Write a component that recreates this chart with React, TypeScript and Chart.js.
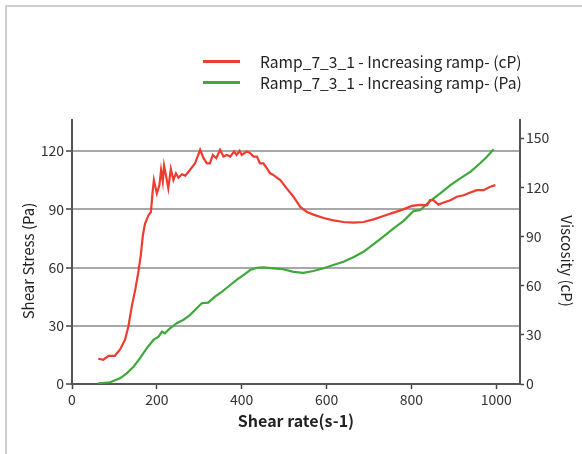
import React, { useEffect, useRef } from "react";
import { Chart, registerables } from "chart.js";

Chart.register(...registerables);

const seriesLabels = [
  "Ramp_7_3_1 - Increasing ramp- (cP)",
  "Ramp_7_3_1 - Increasing ramp- (Pa)",
];
const seriesColors = ["#ef3b30", "#3ea83a"];

const xTitle = "Shear rate(s-1)";
const yLeftTitle = "Shear Stress (Pa)";
const yRightTitle = "Viscosity (cP)";

// Viscosity (cP) – right axis
const viscRate = [62, 74, 86, 101, 113, 125, 133, 141, 149, 156, 162, 167, 172, 180, 186, 190, 193, 200, 206, 210, 214, 217, 222, 227, 233, 239, 245, 251, 259, 267, 278, 290, 296, 302, 310, 318, 325, 332, 340, 349, 357, 365, 373, 382, 388, 395, 400, 412, 420, 428, 436, 443, 451, 459, 467, 475, 491, 506, 522, 538, 554, 569, 593, 616, 640, 663, 687, 711, 734, 758, 781, 801, 821, 837, 844, 852, 864, 876, 892, 907, 923, 939, 954, 970, 986, 998];
const viscValue = [15.4, 14.8, 17.2, 17.2, 20.9, 27.0, 35.2, 47.5, 57.4, 67.6, 78.3, 90.6, 97.7, 102.8, 104.9, 117.2, 124.4, 116.2, 121.3, 130.5, 123.4, 133.2, 126.5, 119.3, 131.1, 124.4, 128.5, 125.8, 127.9, 127.1, 130.5, 134.6, 138.7, 142.8, 137.7, 134.6, 134.6, 139.7, 137.7, 142.8, 138.7, 139.7, 138.7, 141.8, 139.7, 142.2, 139.7, 141.8, 140.8, 138.7, 138.7, 134.6, 134.6, 131.6, 128.5, 127.4, 124.4, 119.3, 114.2, 108.0, 104.9, 103.3, 101.2, 99.8, 98.8, 98.4, 98.8, 100.4, 102.5, 104.5, 106.5, 108.6, 109.2, 109.0, 112.1, 112.1, 109.4, 110.7, 112.1, 114.2, 115.1, 116.8, 118.2, 118.2, 120.3, 121.3];

// Shear stress (Pa) – left axis
const stressRate = [62, 90, 113, 129, 145, 160, 176, 192, 204, 212, 219, 231, 247, 262, 278, 294, 306, 321, 337, 353, 373, 388, 404, 420, 436, 451, 475, 498, 522, 545, 569, 593, 616, 640, 663, 687, 711, 734, 758, 781, 805, 821, 844, 868, 892, 915, 939, 962, 978, 994];
const stressValue = [0.4, 0.9, 2.9, 5.5, 8.9, 13.2, 18.4, 22.7, 24.4, 26.9, 26.1, 28.7, 31.3, 33.0, 35.5, 39.0, 41.6, 41.9, 45.0, 47.5, 51.0, 53.6, 56.1, 58.7, 59.9, 60.1, 59.6, 59.1, 57.8, 57.3, 58.2, 59.6, 61.3, 63.0, 65.3, 68.1, 72.1, 75.9, 80.2, 83.9, 89.1, 89.6, 94.2, 98.2, 102.5, 105.9, 109.3, 113.7, 117.1, 120.9];

const FONT = "'Noto Sans CJK KR', 'Noto Sans', sans-serif";

const sideTitles = {
  id: "sideTitles",
  afterDraw(chart: any) {
    const { ctx, chartArea } = chart;
    const cy = (chartArea.top + chartArea.bottom) / 2 + 9;
    ctx.save();
    ctx.fillStyle = "#222";
    ctx.font = `15px ${FONT}`;
    ctx.textAlign = "center";
    ctx.textBaseline = "middle";
    ctx.translate(28, cy);
    ctx.rotate(-Math.PI / 2);
    ctx.fillText(yLeftTitle, 0, 0);
    ctx.restore();
    ctx.save();
    ctx.fillStyle = "#222";
    ctx.font = `15px ${FONT}`;
    ctx.textAlign = "center";
    ctx.textBaseline = "middle";
    ctx.translate(567, cy);
    ctx.rotate(Math.PI / 2);
    ctx.fillText(yRightTitle, 0, 0);
    ctx.restore();
  },
};

export default function App() {
  const canvasRef = useRef<HTMLCanvasElement | null>(null);

  useEffect(() => {
    const canvas = canvasRef.current;
    if (!canvas) return;
    const tickFmt = (v: any) => String(v);
    const chart = new Chart(canvas, {
      type: "line",
      data: {
        datasets: [
          {
            label: seriesLabels[0],
            data: viscRate.map((r, i) => ({ x: r, y: viscValue[i] })),
            borderColor: seriesColors[0],
            borderWidth: 2.2,
            pointRadius: 0,
            tension: 0,
            yAxisID: "y1",
          },
          {
            label: seriesLabels[1],
            data: stressRate.map((r, i) => ({ x: r, y: stressValue[i] })),
            borderColor: seriesColors[1],
            borderWidth: 2.2,
            pointRadius: 0,
            tension: 0,
            yAxisID: "y",
          },
        ],
      },
      options: {
        responsive: false,
        animation: false,
        layout: { padding: { top: 120, left: 0, right: 0, bottom: 0 } },
        plugins: { legend: { display: false }, tooltip: { enabled: false } },
        scales: {
          x: {
            type: "linear",
            min: 0,
            max: 1056,
            afterFit: (s: any) => { s.height = 70; },
            ticks: { stepSize: 200, includeBounds: false, callback: tickFmt, color: "#333", font: { family: FONT, size: 14 }, padding: 2 },
            grid: { drawOnChartArea: false, drawTicks: true, tickLength: 5, tickColor: "#444", tickWidth: 1.5 },
            border: { color: "#555", width: 2 },
            title: { display: true, text: xTitle, color: "#222", font: { family: FONT, size: 16, weight: "bold" }, padding: { top: 0, bottom: 23 } },
          },
          y: {
            type: "linear",
            position: "left",
            min: 0,
            max: 136,
            afterFit: (s: any) => { s.width = 72; },
            ticks: { stepSize: 30, includeBounds: false, callback: tickFmt, color: "#333", font: { family: FONT, size: 14 }, padding: 2 },
            grid: { color: "#a8a8a8", lineWidth: 2, drawTicks: true, tickLength: 6, tickColor: "#444", tickWidth: 1.5 },
            border: { color: "#555", width: 2 },
            title: { display: false, text: yLeftTitle },
          },
          y1: {
            type: "linear",
            position: "right",
            min: 0,
            max: 161,
            afterFit: (s: any) => { s.width = 62; },
            ticks: { stepSize: 30, includeBounds: false, callback: tickFmt, color: "#333", font: { family: FONT, size: 14 }, padding: 2 },
            grid: { drawOnChartArea: false, drawTicks: true, tickLength: 4, tickColor: "#444", tickWidth: 1.5 },
            border: { color: "#555", width: 2 },
            title: { display: false, text: yRightTitle },
          },
        },
      },
      plugins: [sideTitles],
    });
    return () => chart.destroy();
  }, []);

  return (
    <div style={{ position: "absolute", left: 0, top: 0, width: 582, height: 454, background: "#fff", overflow: "hidden" }}>
      <div style={{ position: "absolute", left: 5, top: 5, width: 600, height: 500, borderLeft: "2px solid #cfcfcf", borderTop: "2px solid #cfcfcf" }} />
      <canvas ref={canvasRef} width={582} height={454} style={{ position: "absolute", left: 0, top: 0, width: 582, height: 454 }} />
      {seriesLabels.map((lbl, i) => (
        <div key={lbl} style={{ position: "absolute", left: 203, top: 51 + i * 21, height: 20, display: "flex", alignItems: "center", fontFamily: FONT, fontSize: 15.6, color: "#222", whiteSpace: "nowrap" }}>
          <span style={{ display: "inline-block", width: 37, height: 3, background: seriesColors[i], marginRight: 20 }} />
          <span>{lbl}</span>
        </div>
      ))}
    </div>
  );
}
